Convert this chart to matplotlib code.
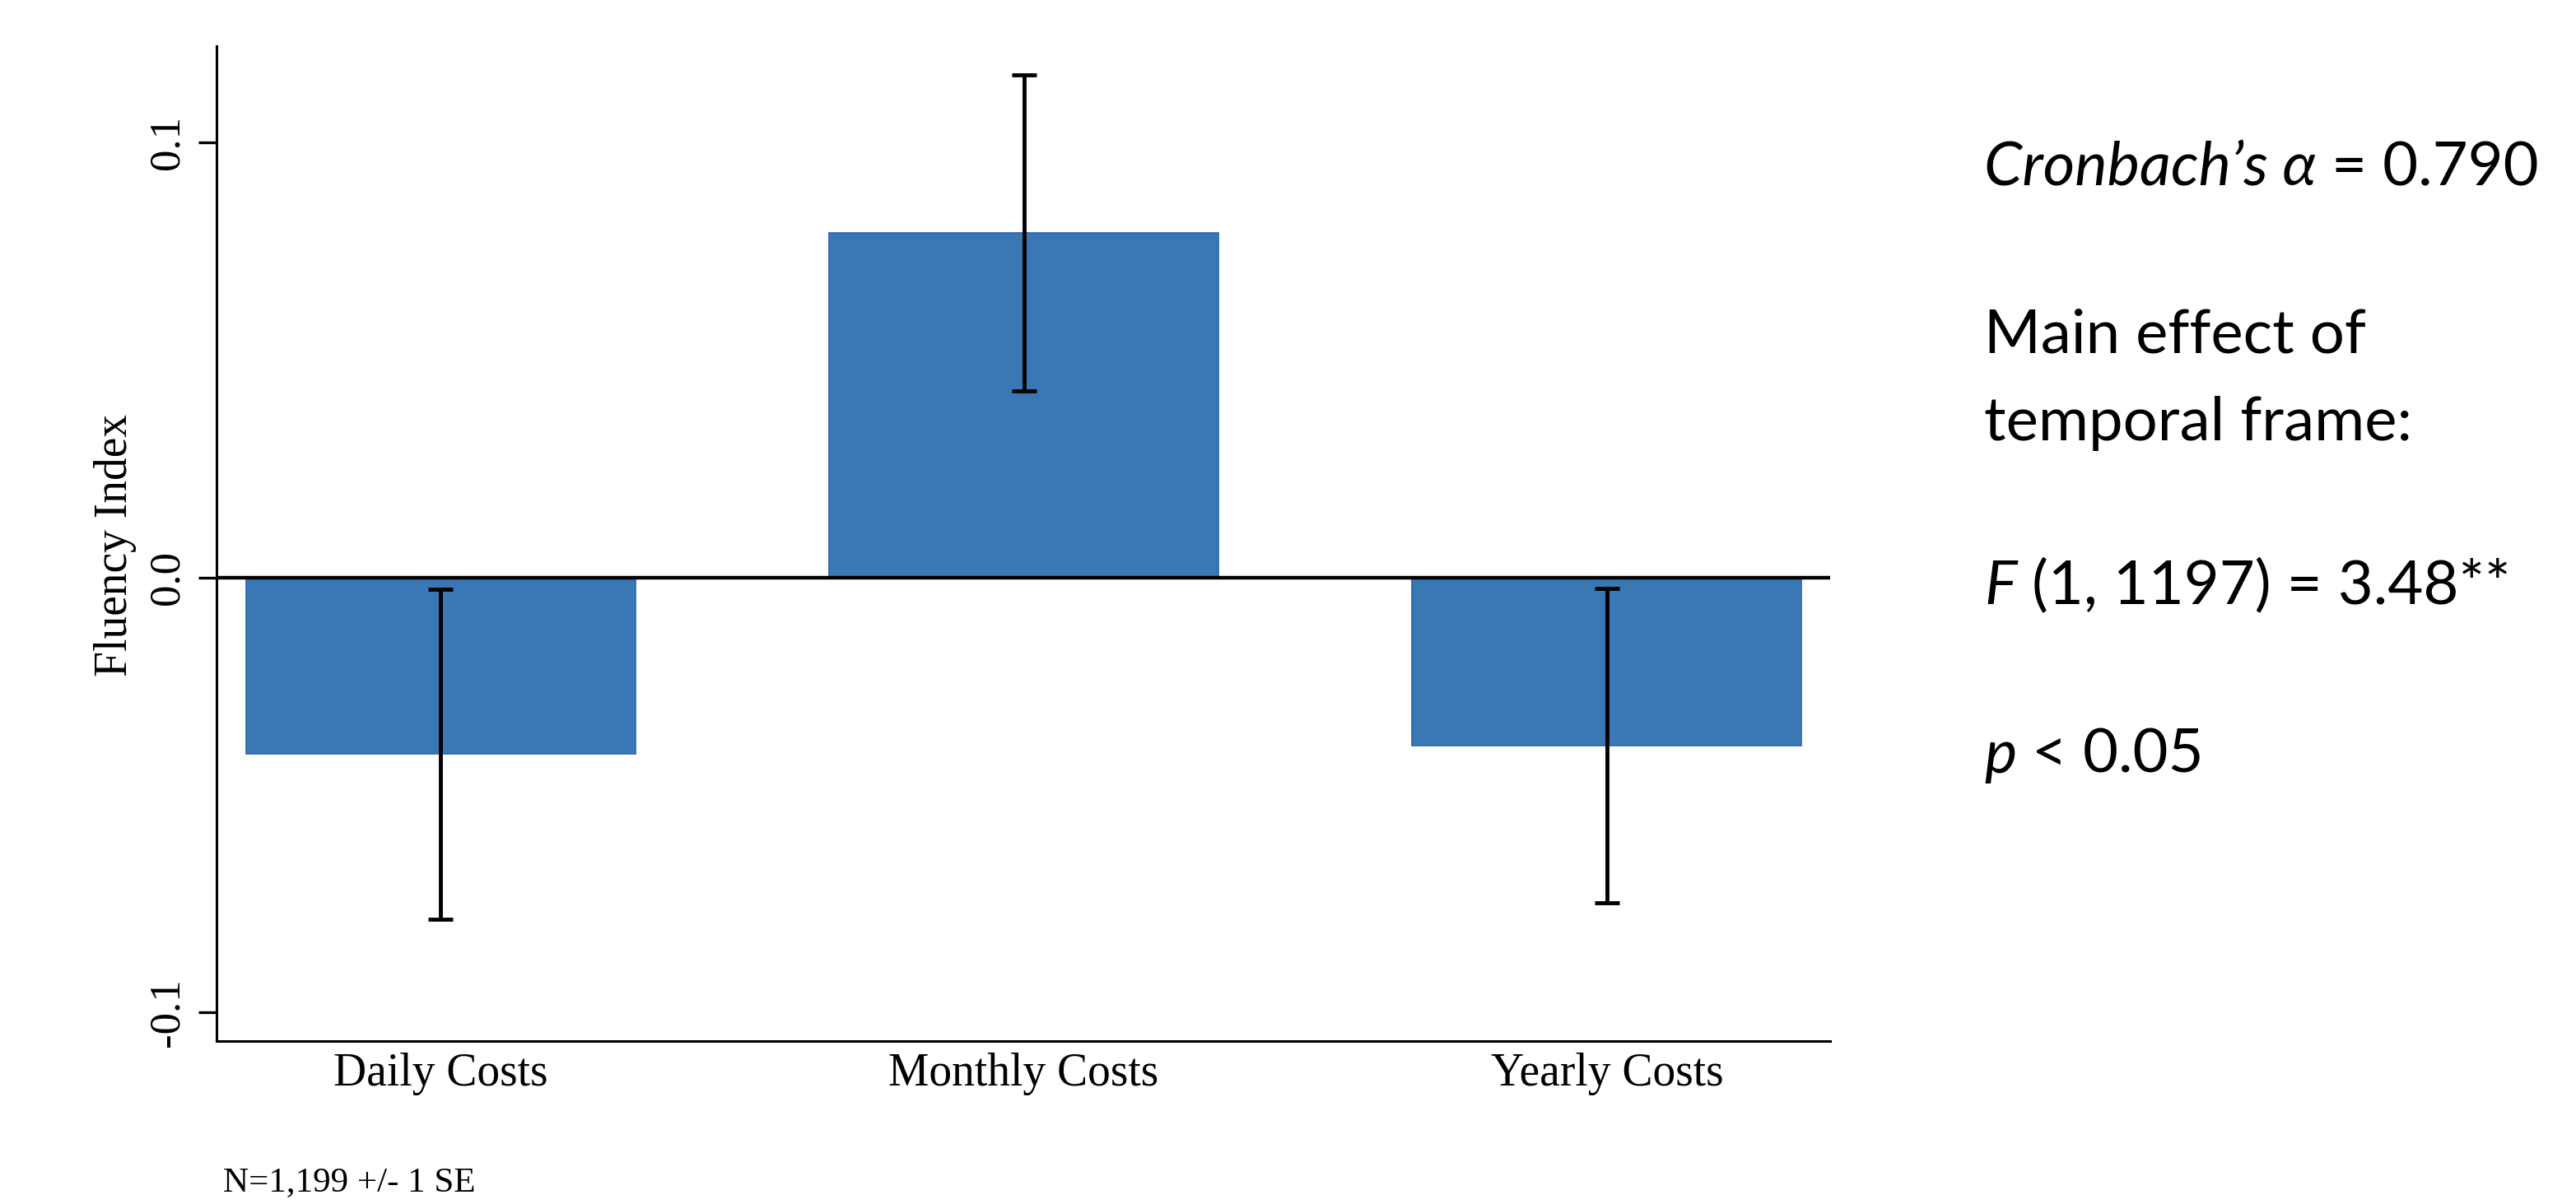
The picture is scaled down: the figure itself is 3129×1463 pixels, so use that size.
import numpy as np
import matplotlib.pyplot as plt

# data
categories = ["Daily Costs", "Monthly Costs", "Yearly Costs"]
means = [-0.0406, 0.0792, -0.0387]
se = [0.0379, 0.0363, 0.0361]
ytick_vals = [-0.1, 0.0, 0.1]
ytick_labels = ["-0.1", "0.0", "0.1"]

serif = ["Liberation Serif", "DejaVu Serif"]
sans = ["Lato", "DejaVu Sans"]

fig = plt.figure(figsize=(31.29, 14.63), dpi=100)
ax = fig.add_axes([0.0841, 0.1353, 0.6264, 0.8264])

x = np.arange(len(categories))
ax.bar(x, means, width=0.668, color="#3a78b5", edgecolor="#2c64aa", linewidth=1.2, zorder=2)
ax.axhline(0, color="black", lw=3.2, zorder=3)
ax.errorbar(x, means, yerr=se, fmt="none", ecolor="black", elinewidth=3.5,
            capsize=10.5, capthick=3.5, zorder=4)

ax.set_xlim(-0.384, 2.383)
ax.set_ylim(-0.1066, 0.1221)

for s in ["top", "right"]:
    ax.spines[s].set_visible(False)
for s in ["left", "bottom"]:
    ax.spines[s].set_linewidth(2.2)

ax.set_xticks(x)
ax.set_xticklabels(categories, fontsize=40, family=serif)
ax.tick_params(axis="x", length=0, pad=10)

ax.set_yticks(ytick_vals)
ax.set_yticklabels(ytick_labels, fontsize=38, family=serif, rotation=90, va="center")
ax.tick_params(axis="y", length=16, width=2.4, pad=10)

fig.text(140 / 3129, 1 - 663 / 1463, "Fluency Index", rotation=90, ha="center", va="center",
         fontsize=40, family=serif)
fig.text(271 / 3129, 1 - 1437 / 1463, "N=1,199 +/- 1 SE", ha="left", va="center",
         fontsize=31, family=serif)

# stats block on the right, italic and upright pieces chained along each line
lines = [
    (0.8462, [("Cronbach\u2019s \u03b1", "italic"), (" = 0.790", "normal")]),
    (0.7068, [("Main effect of", "normal")]),
    (0.6343, [("temporal frame:", "normal")]),
    (0.4983, [("F", "italic"), (" (1, 1197) = 3.48**", "normal")]),
    (0.3582, [("p", "italic"), (" < 0.05", "normal")]),
]
renderer = fig.canvas.get_renderer()
fig_w = fig.get_figwidth() * fig.dpi
for y, pieces in lines:
    xpos = 0.7702
    for txt, style in pieces:
        t = fig.text(xpos, y, txt, ha="left", va="baseline", fontsize=53.5,
                     family=sans, style=style, fontweight="normal", color="black")
        xpos += t.get_window_extent(renderer).width / fig_w

fig.savefig("out.png", dpi=100, facecolor="white")
